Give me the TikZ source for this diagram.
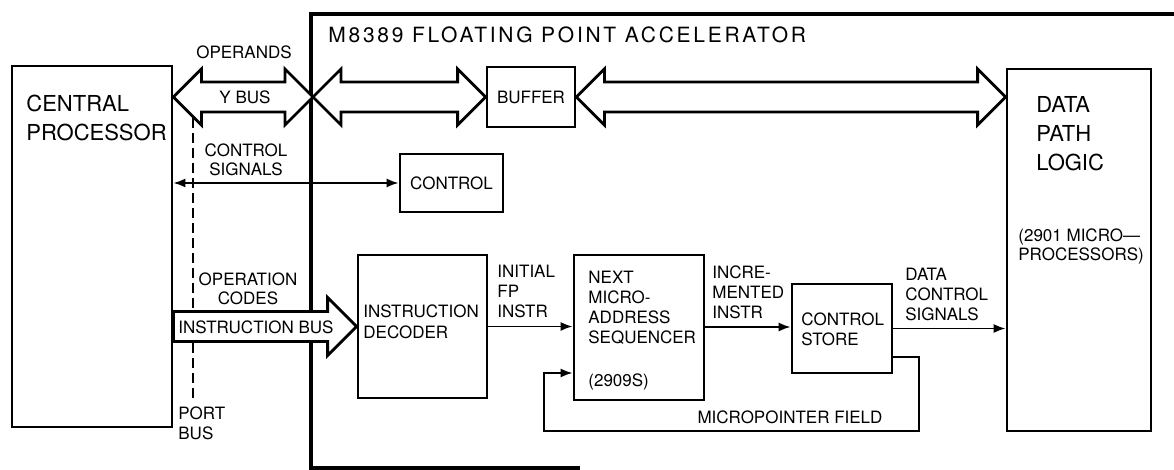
\documentclass[tikz,border=0pt]{standalone}
\usepackage{fontspec}
\setmainfont{TeX Gyre Heros}
\newfontfamily\titlefont[LetterSpace=13]{TeX Gyre Heros}
\usetikzlibrary{arrows.meta,calc,fit}

% double-headed fat bus arrow between two named points
\newcommand{\dbus}[2]{\draw[bus] (#1) -- ++(28,-28) -- ++(0,13) -- ($(#2)+(-28,-15)$) -- ++(0,-13) -- (#2) -- ++(-28,28) -- ++(0,-13) -- ($(#1)+(28,15)$) -- ++(0,13) -- cycle;}

\begin{document}
\begin{tikzpicture}[x=0.5pt,y=-0.5pt,
  >={Latex[length=6pt,width=4.5pt]},
  blk/.style={draw,line width=1.4pt,inner sep=0pt},
  lbl/.style={font=\fontsize{8.5}{10}\selectfont,align=left,inner sep=0pt},
  big/.style={font=\fontsize{11}{14.5}\selectfont,align=left,inner sep=0pt},
  sig/.style={line width=0.9pt},
  bus/.style={line width=1.4pt,fill=white,line join=miter}]
\useasboundingbox (0,0) rectangle (1174,470);

% accelerator outline
\draw[line width=2pt] (1174,14) -- (311,14) -- (311,468) -- (580,468);
\node[anchor=west,inner sep=0pt,font=\titlefont\fontsize{10.5}{12}\selectfont] (title) at (328,35) {M8389 FLOATING POINT ACCELERATOR};

% blocks
\node[blk,fit={(12,66) (172,427)}] (cp) {};
\node[blk,fit={(487,67) (575,127)}] (buffer) {};
\node[blk,fit={(400,154) (503,212)}] (ctrl) {};
\node[blk,fit={(358,255) (487,398)}] (dec) {};
\node[blk,fit={(574,255) (704,400)}] (seq) {};
\node[blk,fit={(792,284) (892,373)}] (store) {};
\node[blk,fit={(1007,69) (1151,431)}] (dpl) {};

\node[big,anchor=west] (cptxt) at (26,118) {CENTRAL\\PROCESSOR};
\node[big,anchor=west] (dpltxt) at (1036,134) {DATA\\PATH\\LOGIC};
\node[lbl,anchor=west,font=\fontsize{8.5}{9.5}\selectfont] (dplnote) at (1018,246) {(2901 MICRO—\\PROCESSORS)};
\node[lbl] at (buffer) {BUFFER};
\node[lbl] at (ctrl) {CONTROL};
\node[lbl,anchor=west,font=\fontsize{8.5}{10.5}\selectfont] (dectxt) at (363,322) {INSTRUCTION\\DECODER};
\node[lbl,anchor=west] (seqtxt) at (588,308) {NEXT\\MICRO-\\ADDRESS\\SEQUENCER};
\node[lbl,anchor=west] (seqnote) at (588,382) {(2909S)};
\node[lbl,anchor=west] (storetxt) at (801,329) {CONTROL\\STORE};

% port bus
\coordinate (porttop) at (193,118);
\coordinate (portbot) at (193,400);
\draw[sig,dash pattern=on 5pt off 2.5pt] (porttop) -- (portbot);
\node[lbl,anchor=north west,font=\fontsize{8.5}{10}\selectfont] (portlbl) at (178,406) {PORT\\BUS};

% y bus, buffer and data path bus
\coordinate (ybl) at (cp.east |- buffer.west);
\coordinate (ybr) at (313,97);
\dbus{ybl}{ybr}
\dbus{ybr}{buffer.west}
\dbus{buffer.east}{buffer.east -| dpl.west}
\node[lbl] (oplbl) at (244,52) {OPERANDS};
\node[lbl] (ylbl) at (245,97) {Y BUS};

% control signals
\draw[sig,<->] (cp.east |- ctrl.west) -- (ctrl.west);
\node[lbl,align=center,font=\fontsize{8.5}{9.5}\selectfont] (csig) at (246,160) {CONTROL\\SIGNALS};

% instruction bus
\coordinate (ibl) at (cp.east |- dec.west);
\draw[bus] (ibl) -- ++(0,-15) -- ($(dec.west)+(-29,-15)$) -- ++(0,-14) -- (dec.west) -- ++(-29,29) -- ++(0,-14) -- ($(ibl)+(0,15)$) -- cycle;
\node[lbl] (iblbl) at (256,327) {INSTRUCTION BUS};
\node[lbl,align=center,font=\fontsize{8.5}{9.5}\selectfont] (opcodes) at (248,289) {OPERATION\\CODES};

% sequencing path
\draw[sig,->] (dec.east) -- (seq.west |- dec.east);
\node[lbl,anchor=west] (initlbl) at (497,291) {INITIAL\\FP\\INSTR};
\draw[sig,->] (seq.east |- 0,327) -- (store.west |- 0,327);
\node[lbl,anchor=west] (inclbl) at (712,292) {INCRE-\\MENTED\\INSTR};
\draw[sig,->] (store.east) -- (store.east -| dpl.west);
\node[lbl,anchor=west] (dclbl) at (905,294) {DATA\\CONTROL\\SIGNALS};

% micropointer loop
\coordinate (mpr) at (919,431);
\coordinate (mpl) at (544,431);
\draw[sig,->] ([yshift=-14.25pt]store.east) -| (mpr) -- (mpl) |- ([yshift=-22.75pt]seq.west);
\node[lbl] (mplbl) at (790,417) {MICROPOINTER FIELD};
\end{tikzpicture}
\end{document}
